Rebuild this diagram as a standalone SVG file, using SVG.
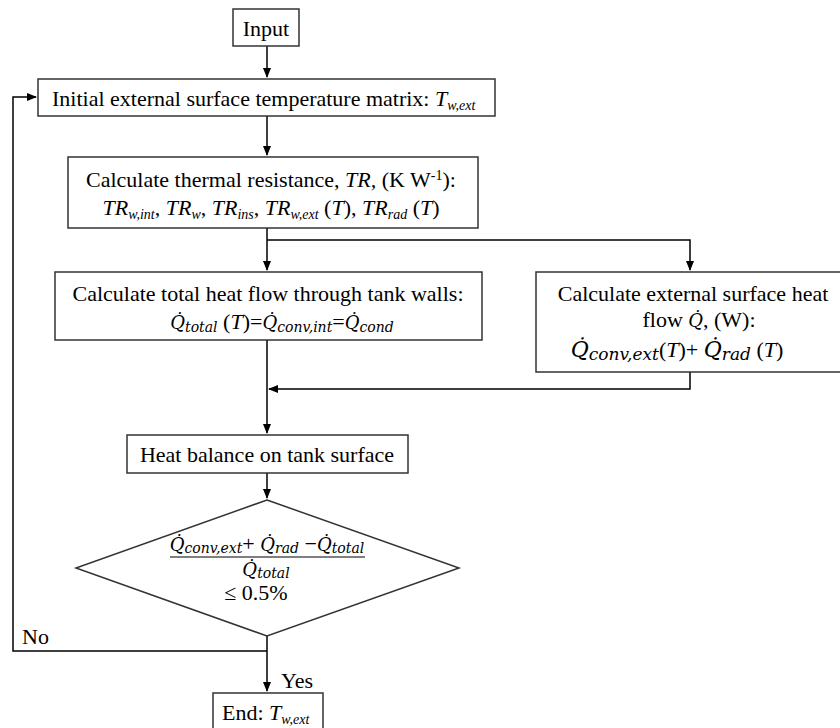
<svg xmlns="http://www.w3.org/2000/svg" width="840" height="728" viewBox="0 0 840 728">
<defs>
<marker id="ah" markerWidth="10" markerHeight="10" refX="9" refY="5" orient="auto" markerUnits="userSpaceOnUse">
<path d="M0,1 L10,5 L0,9 Z" fill="#000"/>
</marker>
<style>
.box{fill:#fff;stroke:#333;stroke-width:1.5}
.ln{fill:none;stroke:#000;stroke-width:1.5}
.t{font-family:"Liberation Serif","Times New Roman",serif;font-size:22px;fill:#000}
.m{font-family:"DejaVu Serif","Liberation Serif",serif;font-style:italic;font-size:18px}
.s{font-family:"DejaVu Serif","Liberation Serif",serif;font-style:italic;font-size:14px}
.m2{font-family:"DejaVu Serif","Liberation Serif",serif;font-style:italic;font-size:22px}
.s2{font-family:"DejaVu Serif","Liberation Serif",serif;font-style:italic;font-size:17px}
.i{font-style:italic}
</style>
</defs>
<rect width="840" height="728" fill="#fff"/>
<g id="connectors">
<path class="ln" d="M267,46 V77" marker-end="url(#ah)"/>
<path class="ln" d="M267,116 V155" marker-end="url(#ah)"/>
<path class="ln" d="M267,228 V270" marker-end="url(#ah)"/>
<path class="ln" d="M267,240 H690 V270" marker-end="url(#ah)"/>
<path class="ln" d="M267,340 V433" marker-end="url(#ah)"/>
<path class="ln" d="M690,372 V389 H269" marker-end="url(#ah)"/>
<path class="ln" d="M267,473 V498" marker-end="url(#ah)"/>
<path class="ln" d="M267,636 V691" marker-end="url(#ah)"/>
<path class="ln" d="M267,651 H13 V97 H36" marker-end="url(#ah)"/>
<text class="t" x="22" y="644">No</text>
<text class="t" x="281" y="688">Yes</text>
</g>
<g id="input">
<rect class="box" x="233" y="9" width="66" height="37"/>
<text class="t" x="266" y="36" text-anchor="middle">Input</text>
</g>
<g id="initial">
<rect class="box" x="38" y="79" width="457" height="37"/>
<text class="t" x="52" y="106">Initial external surface temperature matrix: <tspan class="i">T</tspan><tspan class="i" font-size="14" dy="4">w,ext</tspan></text>
</g>
<g id="resistance">
<rect class="box" x="68" y="157" width="410" height="71"/>
<text class="t" x="271" y="187" text-anchor="middle">Calculate thermal resistance, <tspan class="i">TR,</tspan> (K W<tspan font-size="14" dy="-7">-1</tspan><tspan dy="7">):</tspan></text>
<text class="t" x="271" y="215" text-anchor="middle"><tspan class="i">TR</tspan><tspan class="i" font-size="14" dy="4">w,int</tspan><tspan dy="-4">, </tspan><tspan class="i">TR</tspan><tspan class="i" font-size="14" dy="4">w</tspan><tspan dy="-4">, </tspan><tspan class="i">TR</tspan><tspan class="i" font-size="14" dy="4">ins</tspan><tspan dy="-4">, </tspan><tspan class="i">TR</tspan><tspan class="i" font-size="14" dy="4">w,ext</tspan><tspan dy="-4"> (</tspan><tspan class="i">T</tspan>), <tspan class="i">TR</tspan><tspan class="i" font-size="14" dy="4">rad</tspan><tspan dy="-4"> (</tspan><tspan class="i">T</tspan>)</text>
</g>
<g id="total">
<rect class="box" x="55" y="272" width="427" height="68"/>
<text class="t" x="268" y="301" text-anchor="middle">Calculate total heat flow through tank walls:</text>
<text class="t" x="282" y="329" text-anchor="middle"><tspan class="m">Q̇</tspan><tspan class="s" dy="3">total</tspan><tspan dy="-3"> (</tspan><tspan class="i">T</tspan>)=<tspan class="m">Q̇</tspan><tspan class="s" dy="3">conv,int</tspan><tspan dy="-3">=</tspan><tspan class="m">Q̇</tspan><tspan class="s" dy="3">cond</tspan></text>
</g>
<g id="external">
<rect class="box" x="536" y="272" width="310" height="100"/>
<text class="t" x="693" y="301" text-anchor="middle">Calculate external surface heat</text>
<text class="t" x="699" y="327" text-anchor="middle">flow <tspan class="m">Q̇</tspan>, (W):</text>
<text class="t" x="677" y="357" text-anchor="middle"><tspan class="m2">Q̇</tspan><tspan class="s2" dy="3">conv,ext</tspan><tspan dy="-3">(</tspan><tspan class="i">T</tspan>)+ <tspan class="m2">Q̇</tspan><tspan class="s2" dy="3">rad</tspan><tspan dy="-3"> (</tspan><tspan class="i">T</tspan>)</text>
</g>
<g id="balance">
<rect class="box" x="127" y="435" width="281" height="38"/>
<text class="t" x="267" y="462" text-anchor="middle">Heat balance on tank surface</text>
</g>
<g id="decision">
<path class="box" d="M267,500 L459,568 L267,636 L76,568 Z"/>
<text class="t" x="267" y="551" text-anchor="middle"><tspan class="m">Q̇</tspan><tspan class="s" dy="2">conv,ext</tspan><tspan dy="-2">+ </tspan><tspan class="m">Q̇</tspan><tspan class="s" dy="2">rad</tspan><tspan dy="-2"> −</tspan><tspan class="m">Q̇</tspan><tspan class="s" dy="2">total</tspan></text>
<line x1="170" y1="557" x2="365" y2="557" stroke="#000" stroke-width="1.2"/>
<text class="t" x="266" y="576" text-anchor="middle"><tspan class="m">Q̇</tspan><tspan class="s" dy="2">total</tspan></text>
<text class="t" x="256" y="600" text-anchor="middle">≤ 0.5%</text>
</g>
<g id="end">
<rect class="box" x="213" y="693" width="110" height="40"/>
<text class="t" x="222" y="720">End: <tspan class="i">T</tspan><tspan class="i" font-size="14" dy="4">w,ext</tspan></text>
</g>
</svg>
